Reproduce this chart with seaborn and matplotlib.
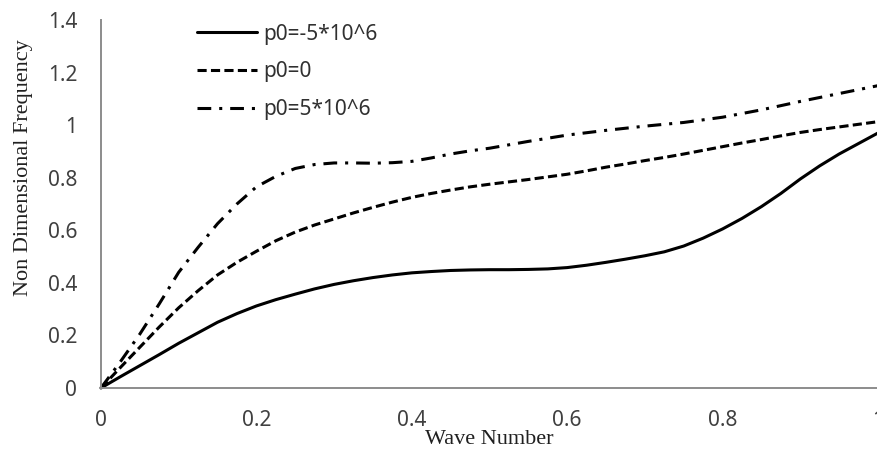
import matplotlib
matplotlib.use("Agg")
import matplotlib.pyplot as plt
import seaborn as sns
import pandas as pd

# values
wave_number = [0, 0.025, 0.05, 0.075, 0.1, 0.125, 0.15, 0.175, 0.2, 0.225, 0.25,
               0.275, 0.3, 0.325, 0.35, 0.375, 0.4, 0.425, 0.45, 0.475, 0.5,
               0.525, 0.55, 0.575, 0.6, 0.625, 0.65, 0.675, 0.7, 0.725, 0.75,
               0.775, 0.8, 0.825, 0.85, 0.875, 0.9, 0.925, 0.95, 0.975, 1.0]
freq_neg = [0, 0.043, 0.085, 0.127, 0.17, 0.21, 0.25, 0.283, 0.312, 0.336, 0.357,
            0.377, 0.394, 0.408, 0.42, 0.43, 0.438, 0.443, 0.447, 0.449, 0.45,
            0.45, 0.451, 0.453, 0.458, 0.467, 0.478, 0.49, 0.503, 0.518, 0.54,
            0.57, 0.605, 0.645, 0.69, 0.74, 0.795, 0.845, 0.89, 0.93, 0.97]
freq_zero = [0, 0.078, 0.155, 0.232, 0.305, 0.37, 0.43, 0.478, 0.52, 0.56, 0.593,
             0.62, 0.643, 0.666, 0.687, 0.707, 0.725, 0.74, 0.753, 0.765, 0.775,
             0.784, 0.793, 0.803, 0.813, 0.826, 0.84, 0.852, 0.865, 0.877, 0.89,
             0.904, 0.918, 0.932, 0.945, 0.959, 0.972, 0.983, 0.993, 1.003, 1.013]
freq_pos = [0, 0.1, 0.205, 0.32, 0.44, 0.535, 0.625, 0.7, 0.765, 0.805, 0.835,
            0.85, 0.856, 0.856, 0.855, 0.857, 0.862, 0.875, 0.89, 0.902, 0.912,
            0.925, 0.938, 0.95, 0.962, 0.971, 0.98, 0.988, 0.996, 1.003, 1.01,
            1.02, 1.03, 1.044, 1.058, 1.074, 1.09, 1.105, 1.12, 1.135, 1.15]
labels = ["p0=-5*10^6", "p0=0", "p0=5*10^6"]
y_ticks = [0, 0.2, 0.4, 0.6, 0.8, 1, 1.2, 1.4]
x_ticks = [0, 0.2, 0.4, 0.6, 0.8, 1]

sns.set_style("white")
plt.rcParams["font.family"] = ["Noto Sans", "DejaVu Sans"]

df = pd.DataFrame({"x": wave_number, "neg": freq_neg, "zero": freq_zero, "pos": freq_pos})

fig = plt.figure(figsize=(8.78, 4.53), dpi=100)
ax = fig.add_axes([0.115, 0.1435, 0.885, 0.8125])

styles = ["-", (0, (3, 1.4)), (0, (4.5, 2.6, 1, 2.6))]
for col, lab, ls in zip(["neg", "zero", "pos"], labels, styles):
    sns.lineplot(data=df, x="x", y=col, ax=ax, color="black", linewidth=2.2,
                 linestyle=ls, label=lab, clip_on=False)

ax.set_xlim(0, 1)
ax.set_ylim(0, 1.4)
ax.set_xticks(x_ticks)
ax.set_xticklabels(["0", "0.2", "0.4", "0.6", "0.8", "1"])
ax.set_yticks(y_ticks)
ax.set_yticklabels(["0", "0.2", "0.4", "0.6", "0.8", "1", "1.2", "1.4"])
ax.tick_params(axis="both", length=0, labelsize=15, colors="#404040")
ax.tick_params(axis="y", pad=17)
ax.tick_params(axis="x", pad=16)

for side in ["top", "right"]:
    ax.spines[side].set_visible(False)
for side in ["left", "bottom"]:
    ax.spines[side].set_color("#8c8c8c")
    ax.spines[side].set_linewidth(1.4)

ax.set_xlabel("Wave Number", family="Liberation Serif", fontsize=16, color="#202020")
ax.set_ylabel("Non Dimensional Frequency", family="Liberation Serif", fontsize=16, color="#202020")
ax.xaxis.set_label_coords(0.5, -0.115)
ax.yaxis.set_label_coords(-0.088, 0.60)

leg = ax.legend(loc="upper left", bbox_to_anchor=(0.123, 0.99), frameon=False,
                fontsize=15, handlelength=2.9, handletextpad=0.3,
                labelspacing=0.8, borderpad=0, borderaxespad=0)
for t in leg.get_texts():
    t.set_color("#303030")

fig.savefig("out.png", dpi=100)
